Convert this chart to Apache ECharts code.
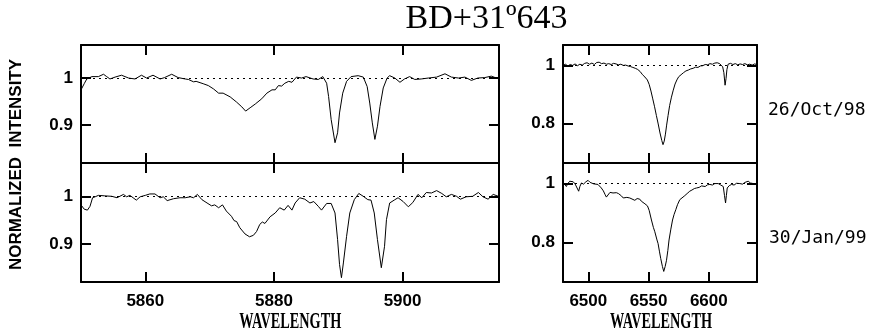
<!DOCTYPE html>
<html>
<head>
<meta charset="utf-8">
<script src="https://cdn.jsdelivr.net/npm/echarts@6/dist/echarts.min.js"></script>
<style>
html,body{margin:0;padding:0;background:#fff;}
#chart{width:872px;height:335px;}
</style>
</head>
<body>
<div id="chart"></div>
<script>
// ---------- data ----------
const titleText = 'BD+31º643';
const yAxisTitle = 'NORMALIZED  INTENSITY';
const xAxisTitle = 'WAVELENGTH';
const dateLabels = ['26/Oct/98', '30/Jan/99'];

const leftXTicks = [5860, 5880, 5900];
const rightXTicks = [6500, 6550, 6600];
const leftYTicks = [0.9, 1];
const rightYTicks = [0.8, 1];

// Na D region, 26/Oct/98
const naWaveOct = [5850.0,5850.5,5850.9,5851.7,5852.7,5853.5,5854.0,5854.5,5855.3,5856.3,5857.4,5858.4,5859.4,5860.2,5861.2,5862.3,5863.0,5864.1,5865.1,5866.2,5866.7,5867.5,5867.9,5869.0,5869.8,5870.6,5871.4,5872.1,5873.2,5874.2,5875.0,5875.6,5876.3,5877.1,5878.1,5878.9,5879.7,5880.2,5880.7,5881.2,5881.7,5882.3,5882.8,5883.5,5884.3,5885.0,5886.1,5886.9,5887.6,5888.2,5888.5,5888.9,5889.5,5889.9,5890.2,5890.7,5891.3,5892.0,5893.1,5893.9,5894.5,5894.9,5895.3,5895.7,5896.1,5896.5,5897.0,5897.6,5898.0,5898.8,5899.6,5900.3,5901.1,5901.9,5902.9,5904.0,5905.3,5906.6,5907.6,5908.7,5909.7,5910.7,5911.7,5912.8,5913.8,5914.6,5915.0];
const naFluxOct = [0.975,0.988,0.998,1.003,1.003,1.008,1.003,0.998,1.002,1.006,1.000,0.998,1.006,1.000,1.006,0.998,1.001,1.008,1.001,0.998,0.997,0.992,0.993,0.988,0.984,0.977,0.968,0.968,0.960,0.949,0.939,0.930,0.937,0.945,0.956,0.968,0.975,0.975,0.984,0.983,0.989,0.993,0.991,1.002,1.000,1.003,0.998,0.997,1.003,0.989,0.961,0.912,0.863,0.884,0.926,0.968,0.993,1.003,1.005,1.002,0.982,0.947,0.905,0.870,0.898,0.940,0.979,1.000,1.005,1.000,0.991,0.998,1.003,0.997,0.998,1.000,1.002,1.009,1.002,1.000,1.002,0.995,1.000,1.001,1.004,1.000,1.001];

// Na D region, 30/Jan/99
const naWaveJan = [5850.0,5850.5,5851.0,5851.4,5851.8,5852.2,5852.7,5853.7,5854.8,5855.6,5856.6,5857.1,5857.6,5858.1,5858.6,5859.2,5860.0,5860.7,5861.5,5862.3,5862.8,5863.4,5864.4,5865.4,5866.2,5867.0,5867.5,5868.1,5868.8,5869.6,5870.3,5870.8,5871.4,5872.0,5872.6,5873.4,5873.8,5874.2,5874.7,5875.5,5876.2,5876.8,5877.3,5877.8,5878.2,5878.6,5879.4,5880.2,5880.9,5881.6,5882.2,5882.8,5883.3,5884.0,5884.8,5885.6,5886.2,5886.9,5887.4,5888.2,5888.9,5889.5,5889.9,5890.2,5890.5,5890.8,5891.3,5891.8,5892.5,5893.2,5893.9,5894.6,5895.1,5895.6,5896.1,5896.7,5897.2,5897.5,5898.0,5898.7,5899.3,5900.1,5900.9,5901.6,5902.4,5903.0,5903.7,5904.5,5905.3,5906.1,5906.8,5907.6,5908.4,5909.0,5909.9,5910.9,5911.8,5912.5,5913.3,5914.1,5914.9];
const naFluxJan = [0.982,0.973,0.971,0.979,0.997,0.999,1.002,1.001,1.000,0.997,1.004,0.999,1.002,0.997,0.992,0.999,1.002,1.005,1.005,0.997,0.999,0.991,0.995,0.997,0.997,0.999,0.997,1.004,0.993,0.986,0.980,0.982,0.976,0.982,0.969,0.958,0.949,0.947,0.934,0.921,0.915,0.918,0.926,0.941,0.946,0.943,0.957,0.965,0.976,0.971,0.981,0.971,0.986,0.997,0.994,0.986,0.989,0.979,0.971,0.985,0.985,0.965,0.909,0.857,0.829,0.860,0.916,0.965,0.993,1.006,1.000,0.993,0.992,0.965,0.909,0.850,0.895,0.951,0.986,0.992,0.997,0.989,0.978,0.987,1.004,0.997,1.008,1.007,1.012,1.006,0.999,1.004,1.000,0.994,0.999,1.000,1.008,0.999,0.994,1.004,1.000];

// H-alpha region, 26/Oct/98
const haWaveOct = [6479,6481,6483,6485,6487,6489,6491,6493,6495,6497,6499,6501,6503,6505,6507,6509,6511,6513,6515,6517,6519,6521,6523,6525,6527,6529,6531,6533,6535,6537,6539,6541,6543,6545,6547,6549,6550.5,6552,6553.5,6555,6556.5,6558,6559.5,6561,6562,6563,6564,6565,6566.2,6567.5,6569,6570.5,6572,6573.5,6575,6577,6579,6581,6583,6585,6587,6589,6591,6593,6595,6597,6599,6601,6603,6605,6607,6609,6610.5,6611.5,6612.5,6613.5,6614.3,6615,6616,6618,6620,6622,6624,6626,6628,6630,6632,6634,6636,6638,6640];
const haFluxOct = [1.000,1.004,0.998,1.003,1.000,1.005,0.999,1.004,1.001,1.007,1.009,1.004,1.008,1.003,1.010,1.011,1.006,1.008,1.004,1.006,1.003,1.007,1.005,1.002,1.004,1.000,1.001,0.998,0.996,0.993,0.990,0.986,0.979,0.968,0.960,0.950,0.935,0.912,0.885,0.858,0.828,0.799,0.768,0.742,0.728,0.740,0.764,0.795,0.828,0.862,0.891,0.915,0.936,0.950,0.961,0.968,0.975,0.981,0.984,0.988,0.990,0.994,0.993,0.998,0.999,1.003,1.002,1.006,1.004,1.008,1.009,1.006,1.005,0.995,0.975,0.932,0.955,0.985,1.004,1.007,1.003,1.006,1.002,1.005,1.003,1.006,1.002,1.004,1.001,1.005,1.003];

// H-alpha region, 30/Jan/99
const haWaveJan = [6479,6480.5,6481.8,6483,6484.6,6486,6487.5,6489,6490.5,6492,6493,6494.3,6496,6498,6499.8,6501.5,6503,6504.5,6506,6508,6509.5,6510.8,6512.5,6514,6515,6516.5,6518,6519.2,6520.5,6522,6523.3,6525,6526,6527.5,6529,6530.2,6532,6534.4,6536,6538.6,6540.5,6542.7,6544,6545.5,6547,6549.1,6550.5,6552.4,6554,6555.2,6557,6557.9,6559,6560.1,6561.5,6562.6,6563.8,6564.9,6566,6567,6568.5,6569.9,6571.2,6572.6,6574,6575.9,6577.5,6580.1,6582,6584.2,6586,6588,6589.8,6592,6594,6595.3,6597,6599,6600.9,6603,6605,6607.8,6609.5,6611,6612,6613,6613.9,6614.6,6615.3,6617,6618.9,6621,6623,6625.8,6628,6630,6632.7,6634.5,6636.9,6638.5,6640];
const haFluxJan = [1.005,1.002,0.990,1.000,1.008,1.003,1.006,0.999,0.996,0.974,0.990,1.002,0.998,1.006,1.011,1.004,1.006,0.999,1.003,0.997,0.994,0.985,0.975,0.962,0.954,0.960,0.970,0.974,0.968,0.973,0.969,0.966,0.963,0.958,0.951,0.947,0.953,0.951,0.946,0.943,0.949,0.947,0.940,0.935,0.931,0.924,0.909,0.876,0.851,0.836,0.808,0.796,0.770,0.745,0.718,0.701,0.718,0.739,0.772,0.808,0.845,0.876,0.895,0.911,0.928,0.945,0.950,0.959,0.966,0.974,0.978,0.983,0.985,0.987,0.992,0.993,0.990,0.996,0.997,0.995,1.000,1.000,0.996,0.993,0.990,0.960,0.934,0.960,0.985,0.993,0.997,0.995,1.001,1.000,0.998,1.004,1.008,1.002,1.000,1.004,0.997];

// ---------- chart ----------
const zip = (xs, ys) => xs.map((x, i) => [x, ys[i]]);
const leftXRange = [5850, 5915];
const rightXRange = [6479, 6640];
const leftYRange = [0.82, 1.07];
const rightYRange = [0.665, 1.07];

const grids = [
  {left: 81, top: 45, width: 418, height: 118},
  {left: 81, top: 163, width: 418, height: 119},
  {left: 563, top: 45, width: 194, height: 118},
  {left: 563, top: 163, width: 194, height: 119}
];

const labelFont = {color: '#000', fontSize: 17, fontWeight: 'bold', fontFamily: 'Liberation Sans'};

function axis(kind, gridIndex, range, ticks, position, showLabels) {
  return {
    type: 'value', gridIndex: gridIndex, min: range[0], max: range[1], position: position,
    scale: true,
    axisLine: {show: true, onZero: false, lineStyle: {color: '#000', width: 2}},
    splitLine: {show: false},
    axisTick: {show: true, inside: true, length: 10, customValues: ticks, lineStyle: {color: '#000', width: 2}},
    axisLabel: Object.assign({show: showLabels, customValues: ticks, margin: kind === 'x' ? 11 : 8,
      formatter: v => String(v)}, labelFont)
  };
}

const xAxes = [], yAxes = [];
const panelCfg = [
  {xr: leftXRange, yr: leftYRange, xt: leftXTicks, yt: leftYTicks, xl: false},
  {xr: leftXRange, yr: leftYRange, xt: leftXTicks, yt: leftYTicks, xl: true},
  {xr: rightXRange, yr: rightYRange, xt: rightXTicks, yt: rightYTicks, xl: false},
  {xr: rightXRange, yr: rightYRange, xt: rightXTicks, yt: rightYTicks, xl: true}
];
panelCfg.forEach((p, i) => {
  xAxes.push(axis('x', i, p.xr, p.xt, 'bottom', p.xl));
  xAxes.push(axis('x', i, p.xr, p.xt, 'top', false));
  yAxes.push(axis('y', i, p.yr, p.yt, 'left', true));
  yAxes.push(axis('y', i, p.yr, p.yt, 'right', false));
});

const seriesData = [
  zip(naWaveOct, naFluxOct),
  zip(naWaveJan, naFluxJan),
  zip(haWaveOct, haFluxOct),
  zip(haWaveJan, haFluxJan)
];

const series = seriesData.map((d, i) => ({
  type: 'line', xAxisIndex: 2 * i, yAxisIndex: 2 * i, data: d,
  showSymbol: false, symbol: 'none', clip: true, animation: false,
  lineStyle: {color: '#000', width: 1},
  markLine: {
    silent: true, symbol: ['none', 'none'], animation: false,
    label: {show: false},
    lineStyle: {color: '#000', type: [2, 4], width: 1},
    data: [{yAxis: 1}]
  }
}));

const chart = echarts.init(document.getElementById('chart'), null, {renderer: 'canvas'});
chart.setOption({
  animation: false,
  backgroundColor: '#fff',
  grid: grids,
  xAxis: xAxes,
  yAxis: yAxes,
  series: series,
  graphic: [
    {type: 'text', x: 486.5, y: 18.7,
      style: {text: titleText, font: '34px "Liberation Serif"', fill: '#000', textAlign: 'center', textVerticalAlign: 'middle'}},
    {type: 'text', x: 16.5, y: 164.5, rotation: Math.PI / 2, scaleX: 1.06,
      style: {text: yAxisTitle, font: 'bold 16px "Liberation Sans"', fill: '#000', textAlign: 'center', textVerticalAlign: 'middle'}},
    {type: 'text', x: 290.3, y: 322.5, scaleX: 0.62,
      style: {text: xAxisTitle, font: 'bold 23px "Liberation Serif"', fill: '#000', textAlign: 'center', textVerticalAlign: 'middle'}},
    {type: 'text', x: 661, y: 322.5, scaleX: 0.62,
      style: {text: xAxisTitle, font: 'bold 23px "Liberation Serif"', fill: '#000', textAlign: 'center', textVerticalAlign: 'middle'}},
    {type: 'text', x: 768, y: 110,
      style: {text: dateLabels[0], font: '18px "DejaVu Sans Mono"', fill: '#000', textAlign: 'left', textVerticalAlign: 'middle'}},
    {type: 'text', x: 769, y: 238,
      style: {text: dateLabels[1], font: '18px "DejaVu Sans Mono"', fill: '#000', textAlign: 'left', textVerticalAlign: 'middle'}}
  ]
});
</script>
</body>
</html>
